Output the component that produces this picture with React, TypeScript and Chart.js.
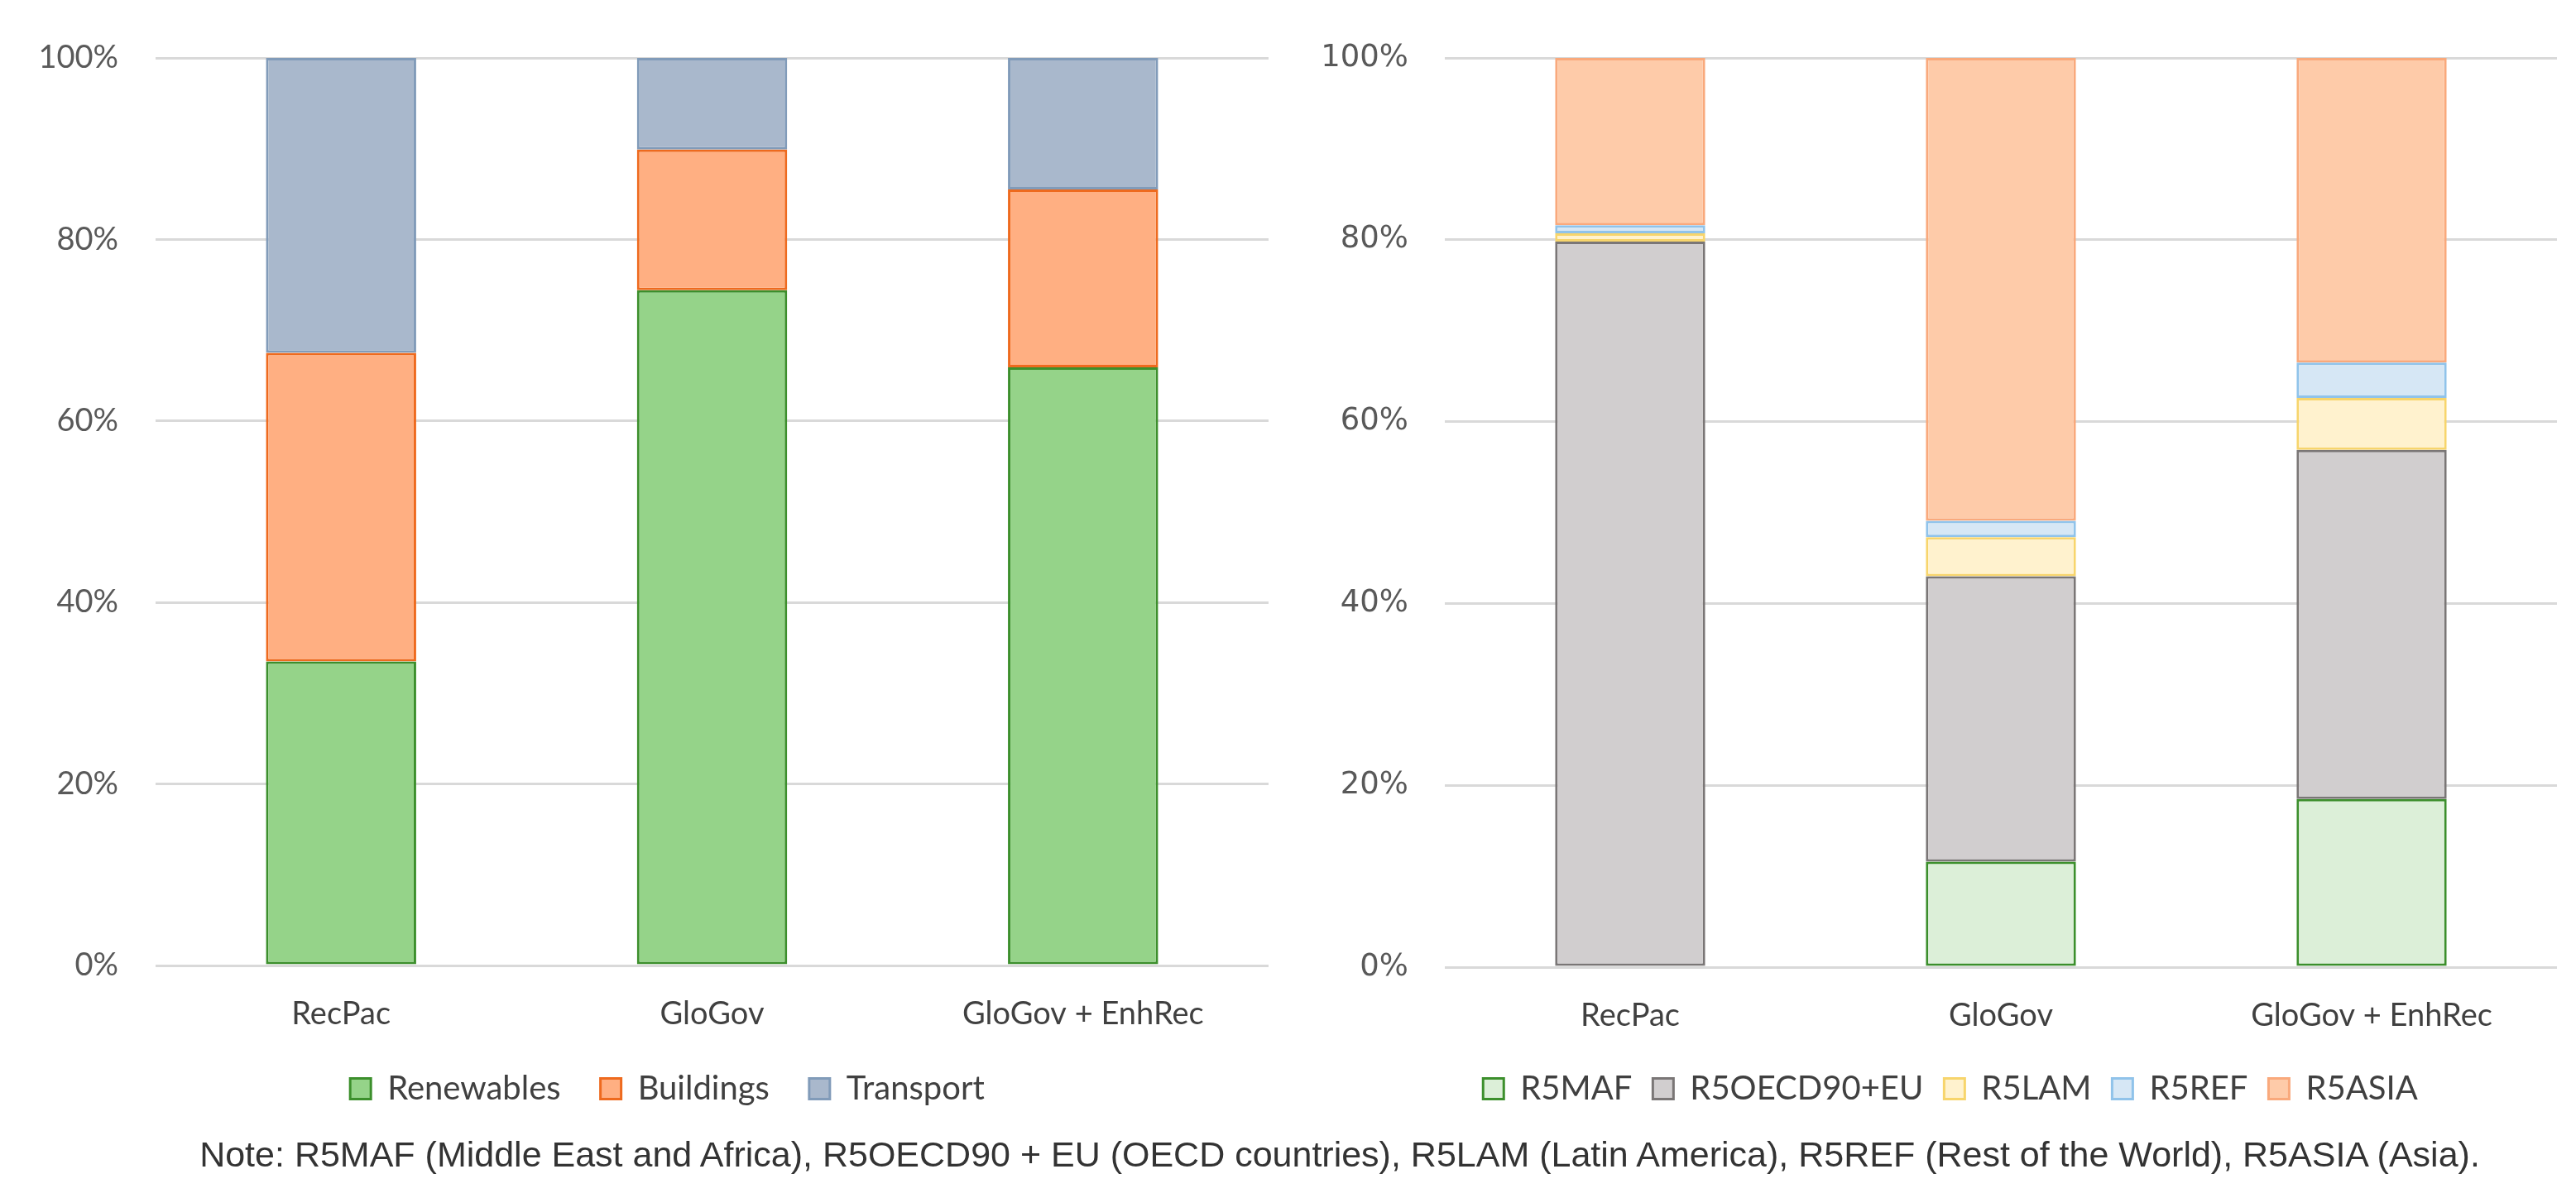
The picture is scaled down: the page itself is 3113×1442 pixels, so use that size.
import React, { useEffect, useRef } from "react";
import { Chart, registerables } from "chart.js";

Chart.register(...registerables);

const categories = ["RecPac", "GloGov", "GloGov + EnhRec"];
const yTicks = [0, 20, 40, 60, 80, 100];

// Left chart (sector shares, %)
const renewables = [33.5, 74.4, 65.9];
const buildings = [34.0, 15.5, 19.6];
const transport = [32.5, 10.1, 14.5];

// Right chart (regional shares, %)
const r5maf = [0, 11.6, 18.5];
const r5oecd = [79.8, 31.4, 38.4];
const r5lam = [0.9, 4.3, 5.7];
const r5ref = [0.9, 1.8, 3.9];
const r5asia = [18.4, 50.9, 33.5];

const noteText =
  "Note: R5MAF (Middle East and Africa), R5OECD90 + EU (OECD countries), R5LAM (Latin America), R5REF (Rest of the World), R5ASIA (Asia).";

type DS = { label: string; data: number[]; bg: string; border: string };

function makeConfig(
  datasets: DS[],
  yFont: any,
  yWidth: number,
  yPad: number,
  padRight: number,
  legendPad: number,
  legendShift: number,
  xHeight: number
): any {
  return {
    type: "bar",
    data: {
      labels: categories,
      datasets: datasets.map((d) => ({
        label: d.label,
        data: d.data,
        backgroundColor: d.bg,
        borderColor: d.border,
        borderWidth: 3,
        borderSkipped: false,
        barPercentage: 1,
        categoryPercentage: 0.405,
      })),
    },
    plugins: [
      {
        id: "legendShift",
        afterLayout: (chart: any) => {
          const lg = chart.legend;
          if (lg) {
            lg.left += legendShift;
            lg.right += legendShift;
          }
        },
      },
    ],
    options: {
      animation: false,
      responsive: false,
      maintainAspectRatio: false,
      layout: { padding: { top: 70, right: padRight, left: 0, bottom: 4 } },
      plugins: {
        tooltip: { enabled: false },
        title: { display: false },
        legend: {
          position: "bottom",
          labels: {
            font: { family: "Lato", size: 40 },
            color: "#404040",
            boxWidth: 25,
            boxHeight: 25,
            padding: legendPad,
          },
        },
      },
      scales: {
        x: {
          stacked: true,
          grid: { display: false, drawTicks: false },
          border: { display: false },
          ticks: {
            font: { family: "Lato", size: 38 },
            color: "#404040",
            padding: 36,
          },
          afterFit: (s: any) => {
            s.height = xHeight;
          },
        },
        y: {
          stacked: true,
          min: 0,
          max: 100,
          afterBuildTicks: (s: any) => {
            s.ticks = yTicks.map((v) => ({ value: v }));
          },
          grid: { color: "#D9D9D9", lineWidth: 3, drawTicks: false },
          border: { display: false },
          ticks: {
            font: yFont,
            color: "#595959",
            padding: yPad,
            callback: (v: any) => v + "%",
          },
          afterFit: (s: any) => {
            s.width = yWidth;
          },
        },
      },
    },
  };
}

function BarChart({ datasets, width, height, yFont, yWidth, yPad, padRight, legendPad, legendShift, xHeight }: any) {
  const ref = useRef<HTMLCanvasElement>(null);
  useEffect(() => {
    const chart = new Chart(
      ref.current as HTMLCanvasElement,
      makeConfig(datasets, yFont, yWidth, yPad, padRight, legendPad, legendShift, xHeight)
    );
    return () => chart.destroy();
  }, []);
  return <canvas ref={ref} width={width} height={height} style={{ width, height, display: "block" }} />;
}

export default function App() {
  const leftSets: DS[] = [
    { label: "Renewables", data: renewables, bg: "#95D389", border: "#3C8F2C" },
    { label: "Buildings", data: buildings, bg: "#FFAF82", border: "#EE6A1E" },
    { label: "Transport", data: transport, bg: "#A9B8CC", border: "#819BB9" },
  ];
  const rightSets: DS[] = [
    { label: "R5MAF", data: r5maf, bg: "#DCEFD8", border: "#3C8F2C" },
    { label: "R5OECD90+EU", data: r5oecd, bg: "#D1CECF", border: "#7A7676" },
    { label: "R5LAM", data: r5lam, bg: "#FFF2CE", border: "#F7D56C" },
    { label: "R5REF", data: r5ref, bg: "#D6E7F5", border: "#90C3EA" },
    { label: "R5ASIA", data: r5asia, bg: "#FECBA9", border: "#F9A97C" },
  ];
  return (
    <div style={{ position: "fixed", left: 0, top: 0, width: 3113, height: 1442, background: "#fff" }}>
      <div style={{ position: "absolute", left: 0, top: 0 }}>
        <BarChart
          datasets={leftSets}
          width={1560}
          height={1350}
          yFont={{ family: "Lato", size: 38 }}
          yWidth={188}
          yPad={45}
          padRight={27}
          legendPad={48}
          legendShift={40}
          xHeight={81}
        />
      </div>
      <div style={{ position: "absolute", left: 1560, top: 0 }}>
        <BarChart
          datasets={rightSets}
          width={1553}
          height={1350}
          yFont={{ family: "DejaVu Sans", size: 37 }}
          yWidth={186}
          yPad={44}
          padRight={23}
          legendPad={25}
          legendShift={32}
          xHeight={102}
        />
      </div>
      <div
        style={{
          position: "absolute",
          left: 0,
          width: 3238,
          top: 1371,
          textAlign: "center",
          fontFamily: "'Liberation Sans', Arial, sans-serif",
          fontSize: 43,
          color: "#333",
          whiteSpace: "nowrap",
        }}
      >
        {noteText}
      </div>
    </div>
  );
}
